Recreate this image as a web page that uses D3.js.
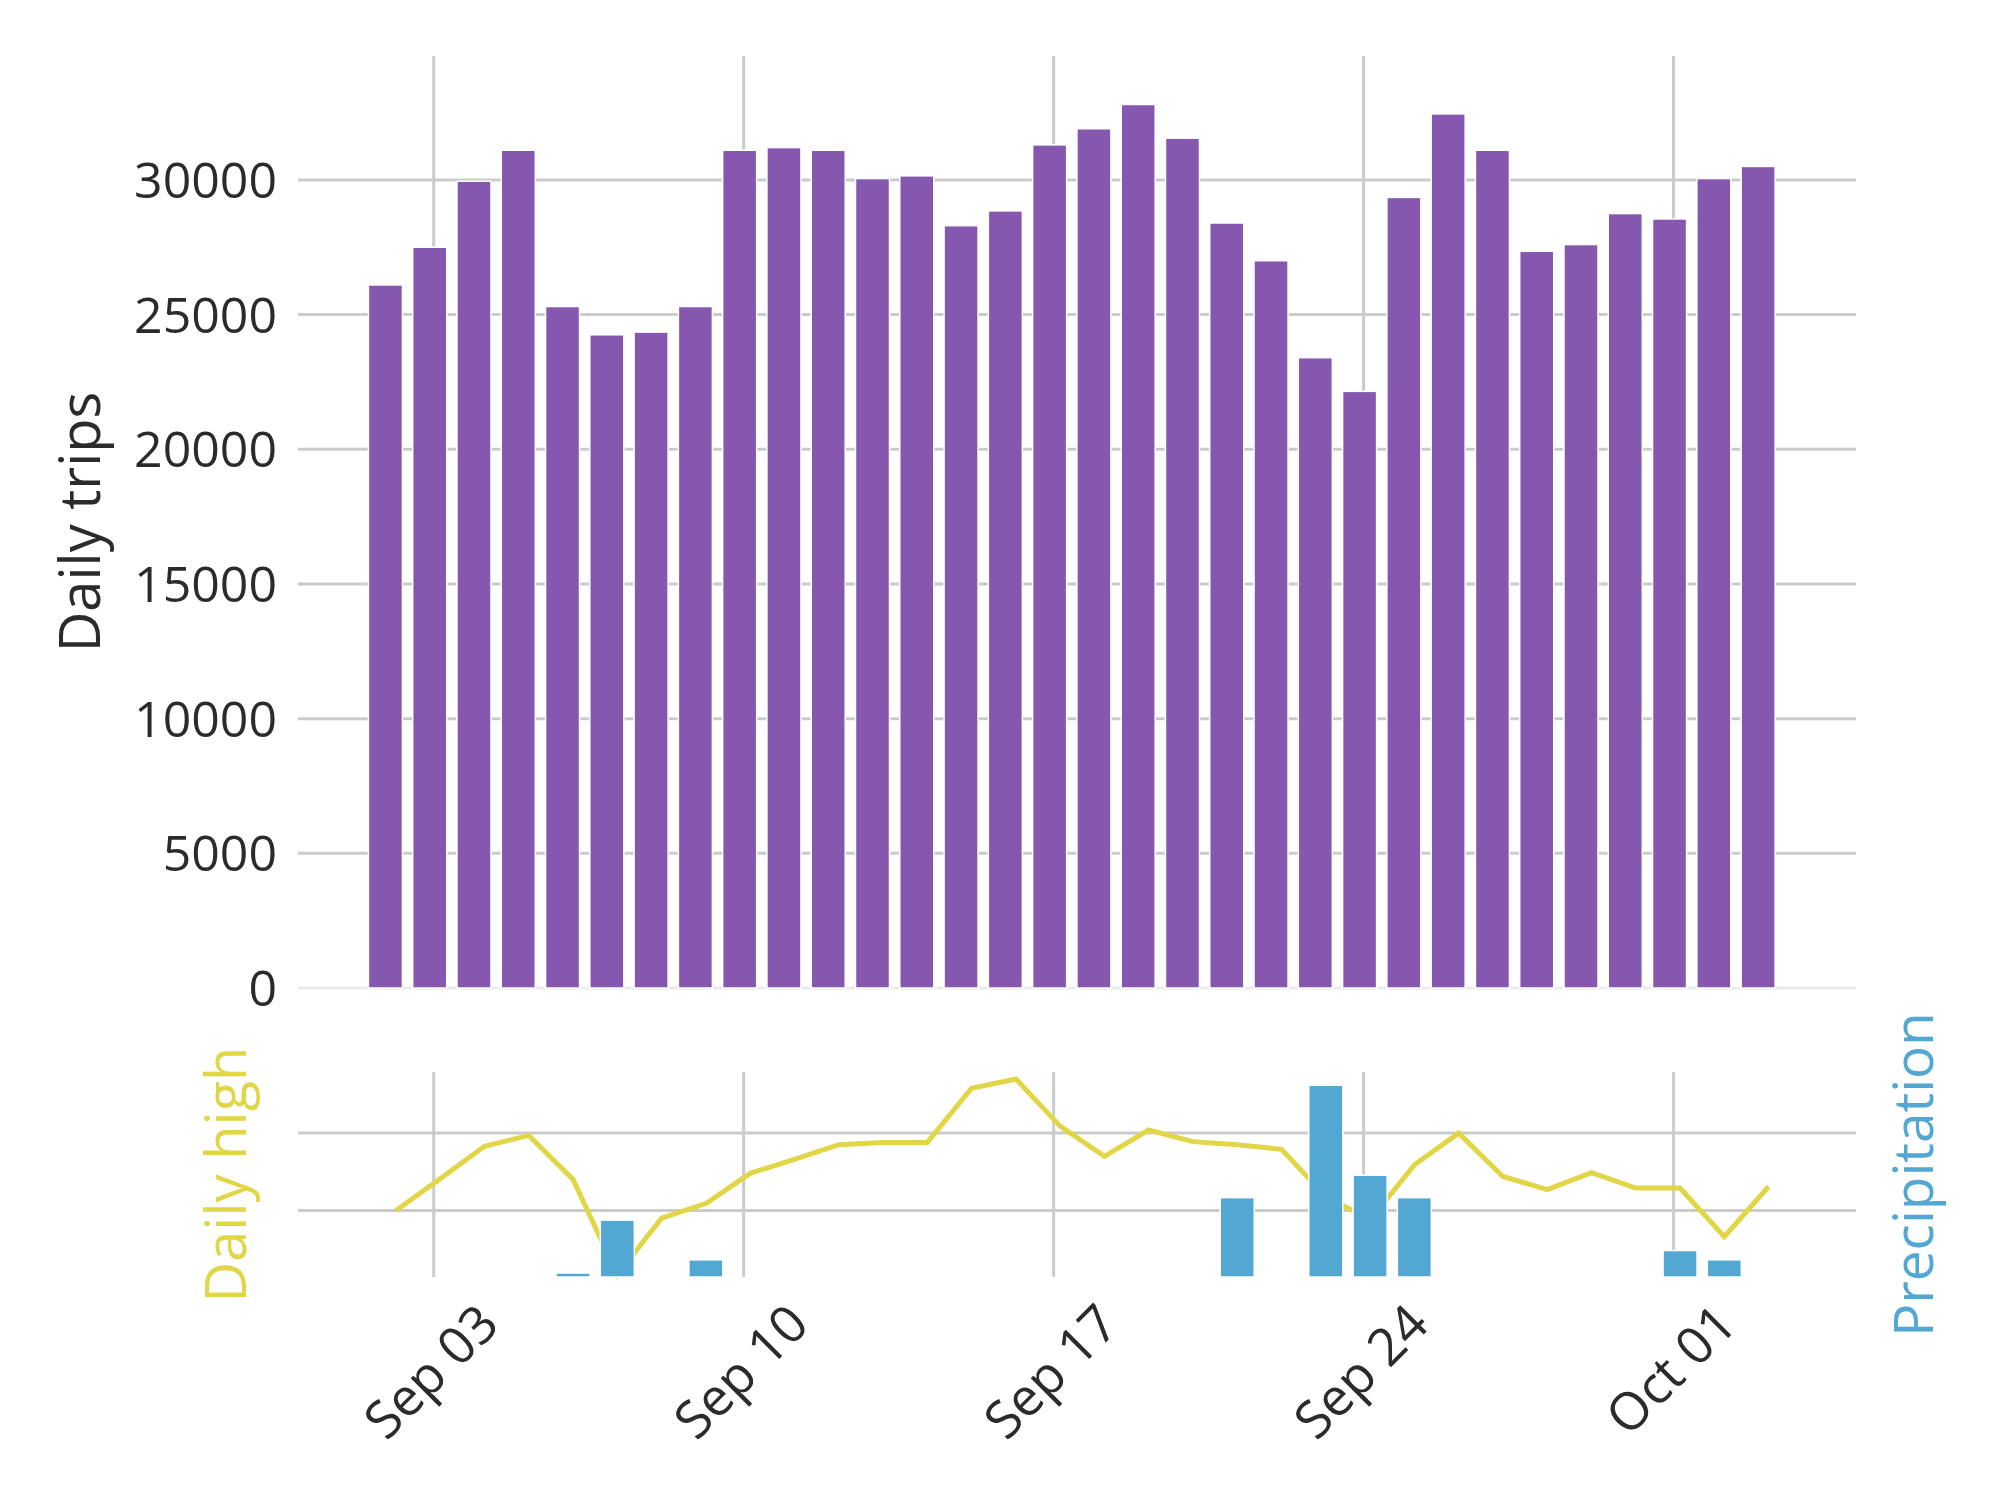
<!DOCTYPE html>
<html>
<head>
<meta charset="utf-8">
<script src="https://cdn.jsdelivr.net/npm/d3@7"></script>
<style>
	body { margin: 0; background: #fff; }
	svg { display: block; font-family: "Open Sans", sans-serif; }
</style>
</head>
<body>
<svg id="chart" width="2000" height="1500"></svg>
<script>
const days = [
	"2017-09-02", "2017-09-03", "2017-09-04", "2017-09-05", "2017-09-06", "2017-09-07",
	"2017-09-08", "2017-09-09", "2017-09-10", "2017-09-11", "2017-09-12", "2017-09-13",
	"2017-09-14", "2017-09-15", "2017-09-16", "2017-09-17", "2017-09-18", "2017-09-19",
	"2017-09-20", "2017-09-21", "2017-09-22", "2017-09-23", "2017-09-24", "2017-09-25",
	"2017-09-26", "2017-09-27", "2017-09-28", "2017-09-29", "2017-09-30", "2017-10-01",
	"2017-10-02", "2017-10-03"
];
const trips = [
	26100, 27500, 29950, 31100, 25300, 24250, 24350, 25300, 31100, 31200, 31100, 30050,
	30150, 28300, 28850, 31300, 31900, 32800, 31550, 28400, 27000, 23400, 22150, 29350,
	32450, 31100, 27350, 27600, 28750, 28550, 30050, 30500
];
const dailyHigh = [
	70.0, 74.1, 78.3, 79.7, 74.0, 61.7, 69.0, 70.9, 74.8, 76.6, 78.5, 78.8,
	78.8, 85.8, 87.0, 80.9, 77.0, 80.4, 78.9, 78.5, 77.9, 71.8, 68.8, 75.9,
	80.0, 74.4, 72.7, 74.9, 72.9, 72.9, 66.6, 73.1
];
const precipitation = [
	0, 0, 0, 0, 0.03, 0.43, 0, 0.13, 0, 0, 0, 0,
	0, 0, 0, 0, 0, 0, 0, 0.6, 0, 1.45, 0.77, 0.6,
	0, 0, 0, 0, 0, 0.2, 0.13, 0
];
const xTickDays = ["2017-09-03", "2017-09-10", "2017-09-17", "2017-09-24", "2017-10-01"];
const tripTicks = [0, 5000, 10000, 15000, 20000, 25000, 30000];
const highTicks = [70, 80];

const purple = "#8657ae", blue = "#52a8d3", yellow = "#e0d646";
const gridColor = "#cbcbcb", textColor = "#2b2b2b";

const parse = d3.utcParse("%Y-%m-%d");
const rows = days.map((d, i) => ({
	date: parse(d), trips: trips[i], high: dailyHigh[i], rain: precipitation[i]
}));

const svg = d3.select("#chart");

const x = d3.scaleUtc()
	.domain([new Date(Date.UTC(2017, 7, 30, 22, 27)), new Date(Date.UTC(2017, 9, 5, 2, 53))])
	.range([298, 1856]);
const barW = 34;

// top panel: daily trips
const yTrips = d3.scaleLinear().domain([0, 34600]).range([988, 56]);

const tripPanel = svg.append("g");
tripPanel.selectAll(".hgrid")
	.data(tripTicks)
	.enter()
	.append("line")
	.attr("x1", 298).attr("x2", 1856)
	.attr("y1", d => yTrips(d)).attr("y2", d => yTrips(d))
	.attr("stroke", d => d === 0 ? "#ececec" : gridColor)
	.attr("stroke-width", 3);

tripPanel.selectAll(".vgrid")
	.data(xTickDays.map(parse))
	.enter()
	.append("line")
	.attr("x1", d => x(d)).attr("x2", d => x(d))
	.attr("y1", yTrips.range()[1]).attr("y2", yTrips.range()[0])
	.attr("stroke", gridColor)
	.attr("stroke-width", 3);

tripPanel.selectAll(".bar")
	.data(rows)
	.enter()
	.append("rect")
	.attr("x", d => x(d.date) - 4 - barW / 2)
	.attr("width", barW)
	.attr("y", d => yTrips(d.trips))
	.attr("height", d => yTrips(0) - yTrips(d.trips))
	.attr("fill", purple)
	.attr("stroke", "#fff")
	.attr("stroke-width", 1.5);

tripPanel.selectAll(".ylab")
	.data(tripTicks)
	.enter()
	.append("text")
	.attr("x", 277)
	.attr("y", d => yTrips(d))
	.attr("dy", "0.36em")
	.attr("text-anchor", "end")
	.attr("fill", textColor)
	.attr("font-size", 50)
	.text(d => d);

svg.append("text")
	.attr("transform", "translate(100," + (yTrips.range()[0] + yTrips.range()[1]) / 2 + ") rotate(-90)")
	.attr("text-anchor", "middle")
	.attr("fill", textColor)
	.attr("font-size", 56)
	.text("Daily trips");

// bottom panel: weather
const yHigh = d3.scaleLinear().domain([61.4, 87.9]).range([1277, 1072]);
const yRain = d3.scaleLinear().domain([0, 1.55]).range([1277, 1072]);

const weatherPanel = svg.append("g");
weatherPanel.selectAll(".hgrid")
	.data(highTicks)
	.enter()
	.append("line")
	.attr("x1", 298).attr("x2", 1856)
	.attr("y1", d => yHigh(d)).attr("y2", d => yHigh(d))
	.attr("stroke", gridColor)
	.attr("stroke-width", 3);

weatherPanel.selectAll(".vgrid")
	.data(xTickDays.map(parse))
	.enter()
	.append("line")
	.attr("x1", d => x(d)).attr("x2", d => x(d))
	.attr("y1", yHigh.range()[1]).attr("y2", yHigh.range()[0])
	.attr("stroke", gridColor)
	.attr("stroke-width", 3);

const line = d3.line()
	.x(d => x(d.date) + 6.5)
	.y(d => yHigh(d.high));

weatherPanel.append("path")
	.datum(rows)
	.attr("d", line)
	.attr("fill", "none")
	.attr("stroke", yellow)
	.attr("stroke-width", 5);

weatherPanel.selectAll(".rain")
	.data(rows.filter(d => d.rain > 0))
	.enter()
	.append("rect")
	.attr("x", d => x(d.date) + 6.5 - barW / 2)
	.attr("width", barW)
	.attr("y", d => yRain(d.rain))
	.attr("height", d => yRain(0) - yRain(d.rain))
	.attr("fill", blue)
	.attr("stroke", "#fff")
	.attr("stroke-width", 1.5);

svg.append("text")
	.attr("transform", "translate(246," + (yHigh.range()[0] + yHigh.range()[1]) / 2 + ") rotate(-90)")
	.attr("text-anchor", "middle")
	.attr("fill", yellow)
	.attr("font-size", 56)
	.text("Daily high");

svg.append("text")
	.attr("transform", "translate(1933," + (yRain.range()[0] + yRain.range()[1]) / 2 + ") rotate(-90)")
	.attr("text-anchor", "middle")
	.attr("fill", blue)
	.attr("font-size", 55)
	.text("Precipitation");

// rotated date labels, centred under each tick like matplotlib
const fmt = d3.utcFormat("%b %d");
svg.selectAll(".xlab")
	.data(xTickDays.map(parse))
	.enter()
	.append("text")
	.attr("text-anchor", "middle")
	.attr("dy", "0.36em")
	.attr("fill", textColor)
	.attr("font-size", 52)
	.text(d => fmt(d))
	.each(function (d) {
		const len = this.getComputedTextLength();
		const half = (len + 36) / (2 * Math.SQRT2);
		d3.select(this).attr("transform", "translate(" + (x(d) - 3) + "," + (1301 + half) + ") rotate(-45)");
	});
</script>
</body>
</html>
